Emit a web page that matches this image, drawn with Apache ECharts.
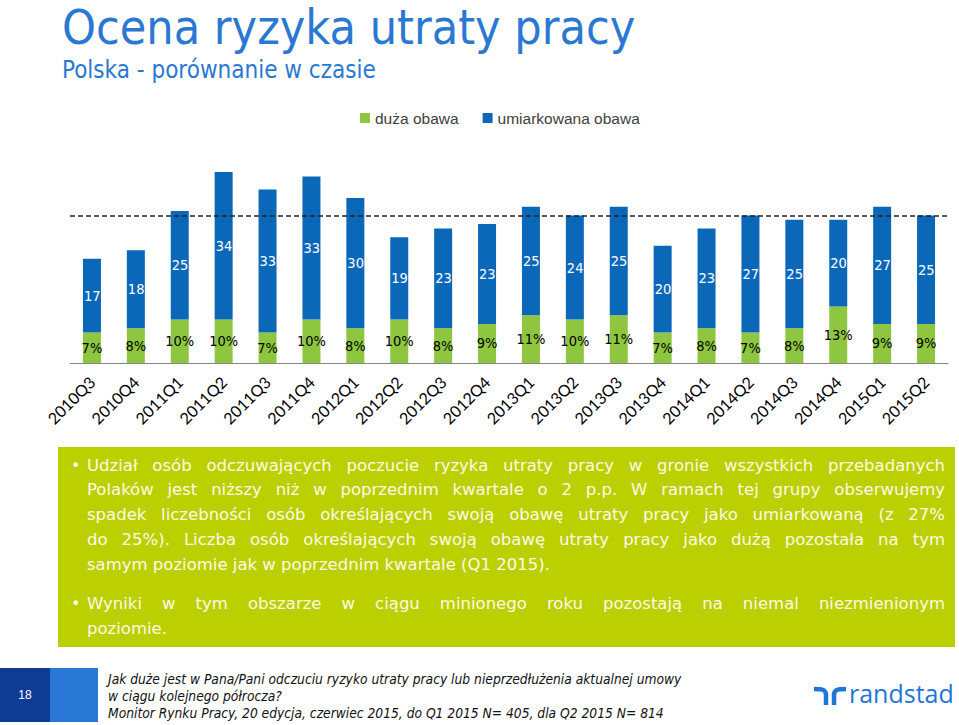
<!DOCTYPE html>
<html>
<head>
<meta charset="utf-8">
<script src="https://cdn.jsdelivr.net/npm/echarts@6/dist/echarts.min.js"></script>
<style>
  html, body { margin: 0; padding: 0; background: #fff; }
  #wrap { position: relative; width: 959px; height: 725px; overflow: hidden; }
  #chart { position: absolute; left: 0; top: 0; width: 959px; height: 725px; }
  #box { position: absolute; left: 58px; top: 447px; width: 897px; height: 200px; background: #bccf00; }
  .ln { position: absolute; left: 29px; width: 858px; font-family: "DejaVu Sans", Verdana, sans-serif; font-size: 16.5px; color: #fcfce6; white-space: nowrap; line-height: 20px; }
  .j { text-align: justify; text-align-last: justify; }
  .bul { position: absolute; left: 13px; font-family: "DejaVu Sans", sans-serif; font-size: 16px; color: #fcfce6; line-height: 20px; }
  #foot { position: absolute; left: 108px; top: 671px; font-family: "Liberation Sans Narrow", "DejaVu Sans Condensed", sans-serif; font-style: italic; font-size: 13.7px; line-height: 17px; color: #111; }
  #sq1 { position: absolute; left: 0; top: 668px; width: 50px; height: 54px; background: #0f3b94; color: #fff; font-family: "Liberation Sans Narrow", sans-serif; font-size: 12px; text-align: center; line-height: 54px; }
  #sq2 { position: absolute; left: 50px; top: 668px; width: 48px; height: 54px; background: #2a78d6; }
  #logo { position: absolute; left: 813px; top: 681px; height: 26px; }
  #logotxt { position: absolute; left: 849px; top: 676px; font-family: "Open Sans", "Liberation Sans", sans-serif; font-size: 25px; color: #2175d9; white-space: nowrap; }
</style>
</head>
<body>
<div id="wrap">
  <div id="chart"></div>
  <div id="box">
    <div class="bul" style="top:9px">•</div>
    <div class="ln j" style="top:9px">Udział osób odczuwających poczucie ryzyka utraty pracy w gronie wszystkich przebadanych</div>
    <div class="ln j" style="top:33px">Polaków jest niższy niż w poprzednim kwartale o 2 p.p. W ramach tej grupy obserwujemy</div>
    <div class="ln j" style="top:58px">spadek liczebności osób określających swoją obawę utraty pracy jako umiarkowaną (z 27%</div>
    <div class="ln j" style="top:83px">do 25%). Liczba osób określających swoją obawę utraty pracy jako dużą pozostała na tym</div>
    <div class="ln" style="top:108px">samym poziomie jak w poprzednim kwartale (Q1 2015).</div>
    <div class="bul" style="top:147px">•</div>
    <div class="ln j" style="top:147px">Wyniki w tym obszarze w ciągu minionego roku pozostają na niemal niezmienionym</div>
    <div class="ln" style="top:172px">poziomie.</div>
  </div>
  <div id="sq1">18</div>
  <div id="sq2"></div>
  <div id="foot">Jak duże jest w Pana/Pani odczuciu ryzyko utraty pracy lub nieprzedłużenia aktualnej umowy<br>w ciągu kolejnego półrocza?<br>Monitor Rynku Pracy, 20 edycja, czerwiec 2015, do Q1 2015 N= 405, dla Q2 2015 N= 814</div>
  <svg id="logo" width="34" height="26" viewBox="0 0 34 26">
    <path d="M1 8 C8 8 13 8 13 14 V24 M21 24 V14 C21 8 26 8 33 8" fill="none" stroke="#2175d9" stroke-width="4.5"/>
  </svg>
  <div id="logotxt">randstad</div>
</div>
<script>
const categories = ['2010Q3','2010Q4','2011Q1','2011Q2','2011Q3','2011Q4','2012Q1','2012Q2','2012Q3','2012Q4','2013Q1','2013Q2','2013Q3','2013Q4','2014Q1','2014Q2','2014Q3','2014Q4','2015Q1','2015Q2'];
const duzaObawa = [7,8,10,10,7,10,8,10,8,9,11,10,11,7,8,7,8,13,9,9];
const umiarkowanaObawa = [17,18,25,34,33,33,30,19,23,23,25,24,25,20,23,27,25,20,27,25];
const referenceLevel = 34;
const seriesNames = ['duża obawa', 'umiarkowana obawa'];

const chart = echarts.init(document.getElementById('chart'), null, { renderer: 'svg' });
chart.setOption({
  animation: false,
  title: [
    {
      text: 'Ocena ryzyka utraty pracy',
      left: 62, top: 2,
      padding: 0,
      textStyle: { fontFamily: 'DejaVu Sans Condensed', fontSize: 48, lineHeight: 50, fontWeight: 'normal', color: '#2a78d2' }
    },
    {
      text: 'Polska - porównanie w czasie',
      left: 62, top: 56,
      padding: 0,
      textStyle: { fontFamily: 'DejaVu Sans Condensed', fontSize: 24, lineHeight: 28, fontWeight: 'normal', color: '#2a78d2' }
    }
  ],
  legend: {
    left: 355, top: 105,
    itemWidth: 10, itemHeight: 10, itemGap: 24,
    icon: 'rect',
    textStyle: { fontFamily: 'Liberation Sans', fontSize: 15.5, color: '#404040' },
    data: seriesNames
  },
  grid: { left: 70, right: 11, top: 146, bottom: 362, containLabel: false },
  xAxis: {
    type: 'category',
    data: categories,
    axisLine: { lineStyle: { color: '#868686' } },
    axisTick: { length: 5, lineStyle: { color: '#868686' } },
    axisLabel: { rotate: 45, margin: 16, fontFamily: 'Lato', fontSize: 16, color: '#000', interval: 0 }
  },
  yAxis: { type: 'value', min: 0, max: 50, show: false, splitLine: { show: false } },
  series: [
    {
      name: seriesNames[0], type: 'bar', stack: 'a', data: duzaObawa, barWidth: '41%',
      itemStyle: { color: '#8fc640' },
      label: { show: true, position: 'inside', formatter: '{c}%', color: '#000', fontFamily: 'DejaVu Sans Condensed', fontSize: 14.5 }
    },
    {
      name: seriesNames[1], type: 'bar', stack: 'a', data: umiarkowanaObawa, barWidth: '41%',
      itemStyle: { color: '#0b67b8' },
      label: { show: true, position: 'insideLeft', distance: 1, formatter: '{c}%', color: '#fff', fontFamily: 'DejaVu Sans Condensed', fontSize: 14.5 },
      markLine: {
        silent: true, symbol: 'none',
        lineStyle: { color: '#222', width: 1.5, type: [5, 3] },
        label: { show: false },
        data: [{ yAxis: referenceLevel }]
      }
    }
  ]
});
</script>
</body>
</html>
